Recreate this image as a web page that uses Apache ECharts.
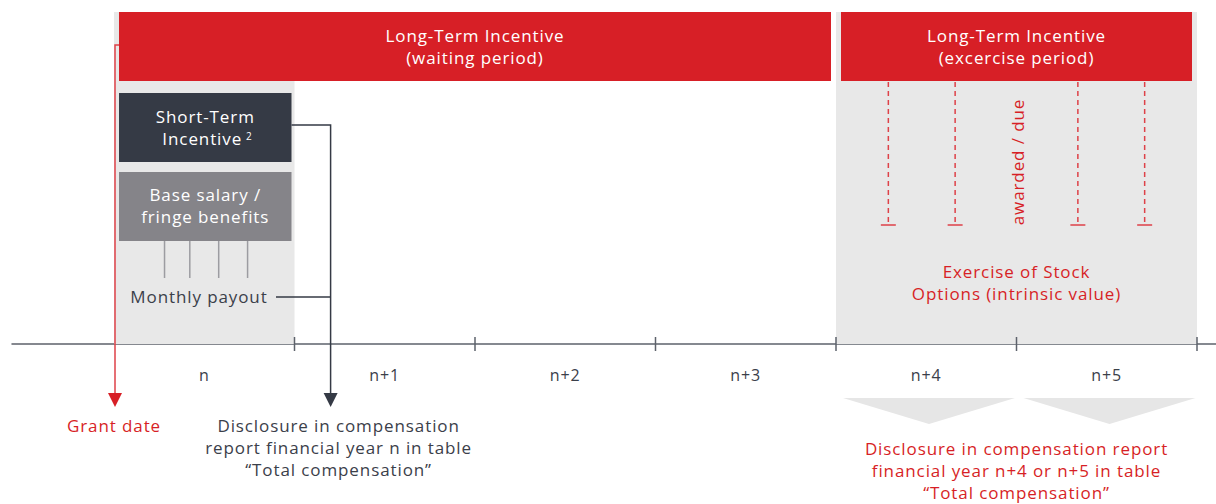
<!DOCTYPE html>
<html>
<head>
<meta charset="utf-8">
<script src="https://cdn.jsdelivr.net/npm/echarts@6/dist/echarts.min.js"></script>
<style>
html,body{margin:0;padding:0;background:#fff;}
#chart{width:1216px;height:504px;}
#chart svg text{letter-spacing:0.9px;}
</style>
</head>
<body>
<div id="chart"></div>
<script>
// ---- data (timeline in years; year 0 = "n") ----
const years = ['n', 'n+1', 'n+2', 'n+3', 'n+4', 'n+5'];
const yearTicks = [1, 2, 3, 4, 5, 6];
const shadedSpans = [[0, 1], [4, 6]];
const ltiStart = [0, 4];
const ltiEnd = [4, 6];
const ltiLabels = ['Long-Term Incentive\n(waiting period)', 'Long-Term Incentive\n(excercise period)'];
const stiSpan = [0, 1];
const monthlyPayouts = [0.28, 0.42, 0.58, 0.74];
const exerciseDates = [4.29, 4.66, 5.34, 5.71];
const grantDate = 0;
const stiDisclosure = 1.2;
const ltiDisclosureYears = [[4, 5], [5, 6]];

// ---- styles ----
const RED = '#d71f26';
const RED_LINE = '#de4148';
const DARK = '#353a45';
const TEXT = '#3b404a';
const MID = '#858489';
const LIGHT = '#e8e8e8';
const AXIS = '#5d626b';
const FONT = '"Open Sans", "Noto Sans", sans-serif';
const TY = -1.2; // text baseline nudge

const chart = echarts.init(document.getElementById('chart'), null, {renderer: 'svg'});

function txt(x, y, text, color, extra) {
  return {
    type: 'text',
    style: Object.assign({
      x: x, y: y + TY, text: text, fill: color, font: '17px ' + FONT,
      align: 'center', verticalAlign: 'middle', lineHeight: 22
    }, extra || {})
  };
}

function renderDiagram(params, api) {
  const X = v => api.coord([v, 0])[0];
  const Y = v => api.coord([0, v])[1];
  const els = [];
  // shaded year backgrounds
  shadedSpans.forEach(s => {
    els.push({type: 'rect', shape: {x: X(s[0]), y: Y(12), width: X(s[1]) - X(s[0]), height: Y(344) - Y(12)}, style: {fill: LIGHT}});
  });
  // LTI bars
  ltiStart.forEach((s, i) => {
    const x0 = X(s) + 5, x1 = X(ltiEnd[i]) - 5;
    els.push({type: 'rect', shape: {x: x0, y: Y(12), width: x1 - x0, height: Y(81) - Y(12)}, style: {fill: RED}});
    els.push(txt((x0 + x1) / 2, Y(48), ltiLabels[i], '#fff'));
  });
  // STI box
  const sx0 = X(stiSpan[0]) + 5, sx1 = X(stiSpan[1]) - 3;
  const sc = (sx0 + sx1) / 2;
  els.push({type: 'rect', shape: {x: sx0, y: Y(93), width: sx1 - sx0, height: Y(162) - Y(93)}, style: {fill: DARK}});
  els.push(txt(sc, Y(118), 'Short-Term', '#fff'));
  els.push(txt(sc - 3, Y(140), 'Incentive', '#fff'));
  els.push(txt(sc + 44, Y(137), '2', '#fff', {font: '10px ' + FONT}));
  // Base salary box
  els.push({type: 'rect', shape: {x: sx0, y: Y(172), width: sx1 - sx0, height: Y(241) - Y(172)}, style: {fill: MID}});
  els.push(txt(sc, Y(207), 'Base salary /\nfringe benefits', '#fff'));
  // monthly payout lines
  monthlyPayouts.forEach(m => {
    els.push({type: 'line', shape: {x1: X(m), y1: Y(241), x2: X(m), y2: Y(278)}, style: {stroke: '#9c9ca1', lineWidth: 1.5}});
  });
  els.push(txt(X(0) + 85, Y(298), 'Monthly payout', TEXT));
  // connector to STI disclosure
  const cx = X(stiDisclosure);
  els.push({type: 'polyline', shape: {points: [[sx1, Y(125)], [cx, Y(125)], [cx, Y(394)]]}, style: {stroke: DARK, lineWidth: 1.5, fill: null}});
  els.push({type: 'line', shape: {x1: X(0) + 162, y1: Y(297), x2: cx, y2: Y(297)}, style: {stroke: DARK, lineWidth: 1.5}});
  els.push({type: 'polygon', shape: {points: [[cx - 7, Y(393)], [cx + 7, Y(393)], [cx, Y(407)]]}, style: {fill: DARK}});
  els.push(txt(cx + 8, Y(449), 'Disclosure in compensation\nreport financial year n in table\n\u201cTotal compensation\u201d', TEXT));
  // grant date
  const gx = X(grantDate) + 1;
  els.push({type: 'polyline', shape: {points: [[X(ltiStart[0]) + 5, Y(45)], [gx, Y(45)], [gx, Y(394)]]}, style: {stroke: RED_LINE, lineWidth: 1.5, fill: null}});
  els.push({type: 'polygon', shape: {points: [[gx - 7, Y(393)], [gx + 7, Y(393)], [gx, Y(407)]]}, style: {fill: RED}});
  els.push(txt(gx - 1, Y(427), 'Grant date', RED));
  // exercise dates
  exerciseDates.forEach(d => {
    const dx = X(d);
    els.push({type: 'line', shape: {x1: dx, y1: Y(82), x2: dx, y2: Y(225)}, style: {stroke: RED_LINE, lineWidth: 1.5, lineDash: [5, 4]}});
    els.push({type: 'line', shape: {x1: dx - 7.5, y1: Y(225), x2: dx + 7.5, y2: Y(225)}, style: {stroke: RED_LINE, lineWidth: 1.5}});
  });
  const ex = (X(ltiStart[1]) + X(ltiEnd[1])) / 2;
  els.push({type: 'text', x: ex + 0.5, y: Y(162), rotation: Math.PI / 2,
    style: {x: 0, y: 0, text: 'awarded / due', fill: RED, font: '17px ' + FONT, align: 'center', verticalAlign: 'middle'}});
  els.push(txt(ex, Y(283.5), 'Exercise of Stock\nOptions (intrinsic value)', RED));
  // ticks
  yearTicks.forEach(t => {
    els.push({type: 'line', shape: {x1: X(t), y1: Y(337), x2: X(t), y2: Y(351)}, style: {stroke: AXIS, lineWidth: 1.5}});
  });
  // LTI disclosure chevrons
  ltiDisclosureYears.forEach(s => {
    const a = X(s[0]) + 7, b = X(s[1]) - 1.5;
    els.push({type: 'polygon', shape: {points: [[a, Y(398)], [b, Y(398)], [(a + b) / 2, Y(424)]]}, style: {fill: '#e6e6e6'}});
  });
  els.push(txt(ex, Y(472), 'Disclosure in compensation report\nfinancial year n+4 or n+5 in table\n\u201cTotal compensation\u201d', RED));
  return {type: 'group', children: els};
}

const pxPerYear = 180.5;
const option = {
  animation: false,
  backgroundColor: '#fff',
  grid: {left: 12, right: 0, top: 0, bottom: 160},
  xAxis: {
    type: 'value',
    min: -(114 - 12) / pxPerYear,
    max: (1216 - 114) / pxPerYear,
    splitLine: {show: false},
    axisLine: {show: true, onZero: false, lineStyle: {color: AXIS, width: 1.5}},
    axisTick: {show: false},
    axisLabel: {
      show: true, margin: 23, color: TEXT, fontSize: 16, fontFamily: 'Open Sans',
      customValues: years.map((y, i) => i + 0.5),
      formatter: v => years[Math.floor(v)]
    }
  },
  yAxis: {type: 'value', min: 0, max: 344, inverse: true, show: false},
  series: [{
    type: 'custom',
    clip: false,
    silent: true,
    renderItem: renderDiagram,
    data: [[0, 0]],
    z: 1
  }]
};
chart.setOption(option);
</script>
</body>
</html>
